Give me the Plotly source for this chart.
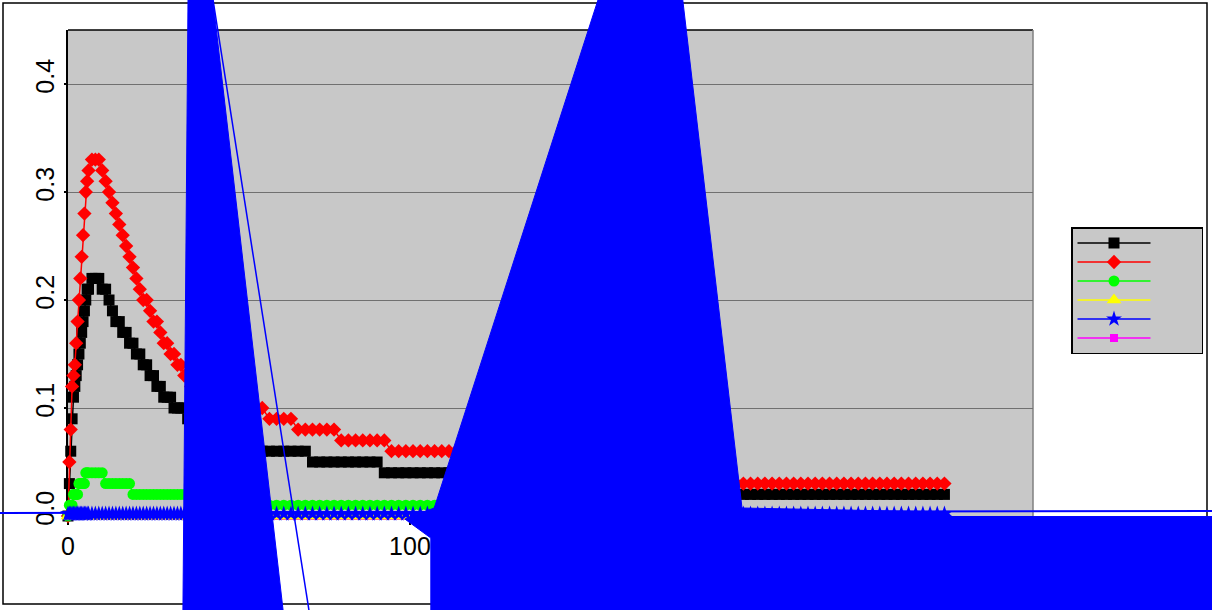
import plotly.graph_objects as go

# ---------------- data ----------------
time = [
    0.0, 0.4, 0.8, 1.2, 1.6, 2.0, 2.4, 2.8, 3.2, 3.6, 4.0, 4.4, 4.8, 5.2, 5.6, 6.0,
    7, 8, 9, 10, 11, 12, 13, 14, 15, 16, 17, 18, 19, 20, 21, 22,
    23, 24, 25, 26, 27, 28, 29, 30, 31, 32, 33, 34, 35, 36, 37, 38,
    40.0, 42.1, 44.2, 46.3, 48.4, 50.5, 52.6, 54.7, 56.8, 58.9, 61.0, 63.1, 65.2,
    67.3, 69.4, 71.5, 73.6, 75.7, 77.8, 79.9, 82.0, 84.1, 86.2, 88.3, 90.4, 92.5,
    94.6, 96.7, 98.8, 100.9, 103.0, 105.1, 107.2, 109.3, 111.4, 113.5, 115.6, 117.7, 119.8,
    121.9, 124.0, 126.1, 128.2, 130.3, 132.4, 134.5, 136.6, 138.7, 140.8, 142.9, 145.0, 147.1,
    149.2, 151.3, 153.4, 155.5, 157.6, 159.7, 161.8, 163.9, 166.0, 168.1, 170.2, 172.3, 174.4,
    176.5, 178.6, 180.7, 182.8, 184.9, 187.0, 189.1, 191.2, 193.3, 195.4, 197.5, 199.6, 201.7,
    203.8, 205.9, 208.0, 210.1, 212.2, 214.3, 216.4, 218.5, 220.6, 222.7, 224.8, 226.9, 229.0,
    231.1, 233.2, 235.3, 237.4, 239.5, 241.6, 243.7, 245.8, 247.9, 250.0, 252.1, 254.2, 256.3,
]

black_vals = [
    0.00, 0.03, 0.06, 0.09, 0.11, 0.12, 0.13, 0.14, 0.15, 0.16, 0.17, 0.18, 0.19, 0.20, 0.21, 0.21,
    0.22, 0.22, 0.22, 0.21, 0.21, 0.20, 0.19, 0.18, 0.18, 0.17, 0.17, 0.16, 0.16, 0.15, 0.15, 0.14,
    0.14, 0.13, 0.13, 0.12, 0.12, 0.11, 0.11, 0.11, 0.10, 0.10, 0.10, 0.10, 0.09, 0.09, 0.09, 0.09,
    0.08, 0.08, 0.08, 0.07, 0.07, 0.07, 0.07, 0.06, 0.06, 0.06, 0.06, 0.06, 0.06,
    0.06, 0.06, 0.05, 0.05, 0.05, 0.05, 0.05, 0.05, 0.05, 0.05, 0.05, 0.05, 0.04,
    0.04, 0.04, 0.04, 0.04, 0.04, 0.04, 0.04, 0.04, 0.04, 0.04, 0.04, 0.04, 0.04,
    0.04, 0.04, 0.04, 0.04, 0.04, 0.04, 0.03, 0.03, 0.03, 0.03, 0.03, 0.03, 0.03,
    0.03, 0.03, 0.03, 0.03, 0.03, 0.03, 0.03, 0.03, 0.03, 0.03, 0.03, 0.03, 0.03,
    0.02, 0.02, 0.02, 0.02, 0.02, 0.02, 0.02, 0.02, 0.02, 0.02, 0.02, 0.02, 0.02,
    0.02, 0.02, 0.02, 0.02, 0.02, 0.02, 0.02, 0.02, 0.02, 0.02, 0.02, 0.02, 0.02,
    0.02, 0.02, 0.02, 0.02, 0.02, 0.02, 0.02, 0.02, 0.02, 0.02, 0.02, 0.02, 0.02,
]

red_vals = [
    0.00, 0.05, 0.08, 0.12, 0.13, 0.14, 0.16, 0.18, 0.20, 0.22, 0.24, 0.26, 0.28, 0.30, 0.31, 0.32,
    0.33, 0.33, 0.33, 0.32, 0.31, 0.30, 0.29, 0.28, 0.27, 0.26, 0.25, 0.24, 0.23, 0.22, 0.21, 0.20,
    0.20, 0.19, 0.18, 0.18, 0.17, 0.16, 0.16, 0.15, 0.15, 0.14, 0.14, 0.13, 0.13, 0.12, 0.12, 0.12,
    0.12, 0.11, 0.11, 0.11, 0.10, 0.10, 0.10, 0.10, 0.10, 0.09, 0.09, 0.09, 0.09,
    0.08, 0.08, 0.08, 0.08, 0.08, 0.08, 0.07, 0.07, 0.07, 0.07, 0.07, 0.07, 0.07,
    0.06, 0.06, 0.06, 0.06, 0.06, 0.06, 0.06, 0.06, 0.06, 0.06, 0.06, 0.05, 0.05,
    0.05, 0.05, 0.05, 0.05, 0.05, 0.05, 0.05, 0.05, 0.05, 0.05, 0.04, 0.04, 0.04,
    0.04, 0.04, 0.04, 0.04, 0.04, 0.04, 0.04, 0.04, 0.04, 0.04, 0.04, 0.04, 0.04,
    0.03, 0.03, 0.03, 0.03, 0.03, 0.03, 0.03, 0.03, 0.03, 0.03, 0.03, 0.03, 0.03,
    0.03, 0.03, 0.03, 0.03, 0.03, 0.03, 0.03, 0.03, 0.03, 0.03, 0.03, 0.03, 0.03,
    0.03, 0.03, 0.03, 0.03, 0.03, 0.03, 0.03, 0.03, 0.03, 0.03, 0.03, 0.03, 0.03,
]

green_vals = [
    0.00, 0.01, 0.01, 0.01, 0.02, 0.02, 0.02, 0.02, 0.03, 0.03, 0.03, 0.03, 0.03, 0.04, 0.04, 0.04,
    0.04, 0.04, 0.04, 0.04, 0.03, 0.03, 0.03, 0.03, 0.03, 0.03, 0.03, 0.03, 0.02, 0.02, 0.02, 0.02,
    0.02, 0.02, 0.02, 0.02, 0.02, 0.02, 0.02, 0.02, 0.02, 0.02, 0.02, 0.02, 0.02, 0.02, 0.02, 0.02,
    0.02, 0.02, 0.02, 0.02, 0.02, 0.01, 0.01, 0.01, 0.01, 0.01, 0.01, 0.01, 0.01,
    0.01, 0.01, 0.01, 0.01, 0.01, 0.01, 0.01, 0.01, 0.01, 0.01, 0.01, 0.01, 0.01,
    0.01, 0.01, 0.01, 0.01, 0.01, 0.01, 0.01, 0.01, 0.01, 0.01, 0.01, 0.01, 0.01,
    0.01, 0.01, 0.01, 0.01, 0.01, 0.01, 0.01, 0.01, 0.01, 0.01, 0.01, 0.01, 0.01,
    0.01, 0.00, 0.00, 0.00, 0.00, 0.00, 0.00, 0.00, 0.00, 0.00, 0.00, 0.00, 0.00,
    0.00, 0.00, 0.00, 0.00, 0.00, 0.00, 0.00, 0.00, 0.00, 0.00, 0.00, 0.00, 0.00,
    0.00, 0.00, 0.00, 0.00, 0.00, 0.00, 0.00, 0.00, 0.00, 0.00, 0.00, 0.00, 0.00,
    0.00, 0.00, 0.00, 0.00, 0.00, 0.00, 0.00, 0.00, 0.00, 0.00, 0.00, 0.00, 0.00,
]

yellow_vals = [
    0.0, 0.0, 0.0, 0.0, 0.0, 0.0, 0.0, 0.0, 0.0, 0.0, 0.0, 0.0, 0.0, 0.0, 0.0, 0.0,
    0.0, 0.0, 0.0, 0.0, 0.0, 0.0, 0.0, 0.0, 0.0, 0.0, 0.0, 0.0, 0.0, 0.0, 0.0, 0.0,
    0.0, 0.0, 0.0, 0.0, 0.0, 0.0, 0.0, 0.0, 0.0, 0.0, 0.0, 0.0, 0.0, 0.0, 0.0, 0.0,
    0.0, 0.0, 0.0, 0.0, 0.0, 0.0, 0.0, 0.0, 0.0, 0.0, 0.0, 0.0, 0.0,
    0.0, 0.0, 0.0, 0.0, 0.0, 0.0, 0.0, 0.0, 0.0, 0.0, 0.0, 0.0, 0.0,
    0.0, 0.0, 0.0, 0.0, 0.0, 0.0, 0.0, 0.0, 0.0, 0.0, 0.0, 0.0, 0.0,
    0.0, 0.0, 0.0, 0.0, 0.0, 0.0, 0.0, 0.0, 0.0, 0.0, 0.0, 0.0, 0.0,
    0.0, 0.0, 0.0, 0.0, 0.0, 0.0, 0.0, 0.0, 0.0, 0.0, 0.0, 0.0, 0.0,
    0.0, 0.0, 0.0, 0.0, 0.0, 0.0, 0.0, 0.0, 0.0, 0.0, 0.0, 0.0, 0.0,
    0.0, 0.0, 0.0, 0.0, 0.0, 0.0, 0.0, 0.0, 0.0, 0.0, 0.0, 0.0, 0.0,
    0.0, 0.0, 0.0, 0.0, 0.0, 0.0, 0.0, 0.0, 0.0, 0.0, 0.0, 0.0, 0.0,
]

blue_vals = [
    0.002, 0.002, 0.002, 0.002, 0.002, 0.002, 0.002, 0.002, 0.002, 0.002, 0.002, 0.002, 0.002, 0.002, 0.002, 0.002,
    0.002, 0.002, 0.002, 0.002, 0.002, 0.002, 0.002, 0.002, 0.002, 0.002, 0.002, 0.002, 0.002, 0.002, 0.002, 0.002,
    0.002, 0.002, 0.002, 0.002, 0.002, 0.002, 0.002, 0.002, 0.002, 0.002, 0.002, 0.002, 0.002, 0.002, 0.002, 0.002,
    0.002, 0.002, 0.002, 0.002, 0.002, 0.002, 0.002, 0.002, 0.002, 0.002, 0.002, 0.002, 0.002,
    0.002, 0.002, 0.002, 0.002, 0.002, 0.002, 0.002, 0.002, 0.002, 0.002, 0.002, 0.002, 0.002,
    0.002, 0.002, 0.002, 0.002, 0.002, 0.002, 0.002, 0.002, 0.002, 0.002, 0.002, 0.002, 0.002,
    0.002, 0.002, 0.002, 0.002, 0.002, 0.002, 0.002, 0.002, 0.002, 0.002, 0.002, 0.002, 0.002,
    0.002, 0.002, 0.002, 0.002, 0.002, 0.002, 0.002, 0.002, 0.002, 0.002, 0.002, 0.002, 0.002,
    0.002, 0.002, 0.002, 0.002, 0.002, 0.002, 0.002, 0.002, 0.002, 0.002, 0.002, 0.002, 0.002,
    0.002, 0.002, 0.002, 0.002, 0.002, 0.002, 0.002, 0.002, 0.002, 0.002, 0.002, 0.002, 0.002,
    0.002, 0.002, 0.002, 0.002, 0.002, 0.002, 0.002, 0.002, 0.002, 0.002, 0.002, 0.002, 0.002,
]

magenta_vals = [
    0.0, 0.0, 0.0, 0.0, 0.0, 0.0, 0.0, 0.0, 0.0, 0.0, 0.0, 0.0, 0.0, 0.0, 0.0, 0.0,
    0.0, 0.0, 0.0, 0.0, 0.0, 0.0, 0.0, 0.0, 0.0, 0.0, 0.0, 0.0, 0.0, 0.0, 0.0, 0.0,
    0.0, 0.0, 0.0, 0.0, 0.0, 0.0, 0.0, 0.0, 0.0, 0.0, 0.0, 0.0, 0.0, 0.0, 0.0, 0.0,
    0.0, 0.0, 0.0, 0.0, 0.0, 0.0, 0.0, 0.0, 0.0, 0.0, 0.0, 0.0, 0.0,
    0.0, 0.0, 0.0, 0.0, 0.0, 0.0, 0.0, 0.0, 0.0, 0.0, 0.0, 0.0, 0.0,
    0.0, 0.0, 0.0, 0.0, 0.0, 0.0, 0.0, 0.0, 0.0, 0.0, 0.0, 0.0, 0.0,
    0.0, 0.0, 0.0, 0.0, 0.0, 0.0, 0.0, 0.0, 0.0, 0.0, 0.0, 0.0, 0.0,
    0.0, 0.0, 0.0, 0.0, 0.0, 0.0, 0.0, 0.0, 0.0, 0.0, 0.0, 0.0, 0.0,
    0.0, 0.0, 0.0, 0.0, 0.0, 0.0, 0.0, 0.0, 0.0, 0.0, 0.0, 0.0, 0.0,
    0.0, 0.0, 0.0, 0.0, 0.0, 0.0, 0.0, 0.0, 0.0, 0.0, 0.0, 0.0, 0.0,
    0.0, 0.0, 0.0, 0.0, 0.0, 0.0, 0.0, 0.0, 0.0, 0.0, 0.0, 0.0, 0.0,
]

# the blue series' runaway segments (data units, drawn unclipped over the page)
blue_spike_a_x = [35.1, 42.3, 63.0, 33.6, 35.1]
blue_spike_a_y = [0.48, 0.48, -0.09, -0.09, 0.48]
blue_streak_x = [42.3, 70.6]
blue_streak_y = [0.48, -0.09]
blue_spike_b_x = [155.2, 179.7, 197.1, 257.0, 258.5, 336.0, 336.0, 106.1, 106.1, 98.5, 107.1, 155.2]
blue_spike_b_y = [0.48, 0.48, 0.0074, 0.0037, -0.0005, -0.0005, -0.09, -0.09, -0.0204, -0.0028, 0.0074, 0.48]
blue_base_x = [-20.0, 336.0]
blue_base_y = [0.0028, 0.0046]

x_ticks = [0, 100, 200]
y_ticks = [0.0, 0.1, 0.2, 0.3, 0.4]

for name, arr in [("black", black_vals), ("red", red_vals), ("green", green_vals),
                  ("yellow", yellow_vals), ("blue", blue_vals), ("magenta", magenta_vals)]:
    if len(arr) != len(time):
        raise ValueError(f"{name}: {len(arr)} vs {len(time)}")

# ---------------- layout geometry ----------------
W, H = 1212, 610
PLOT_L, PLOT_R, PLOT_T, PLOT_B = 68, 1033, 30, 516
X_RANGE = [0, 282.2]
Y_RANGE = [0, 0.45]
sx = (PLOT_R - PLOT_L) / (X_RANGE[1] - X_RANGE[0])
sy = (PLOT_B - PLOT_T) / (Y_RANGE[1] - Y_RANGE[0])
x2_range = [X_RANGE[0] - PLOT_L / sx, X_RANGE[0] + (W - PLOT_L) / sx]
y2_range = [Y_RANGE[0] - (H - PLOT_B) / sy, Y_RANGE[0] + PLOT_B / sy]
px = lambda v: v / W
py = lambda v: (H - v) / H

FONT = "Liberation Sans, Arial, sans-serif"
BLANK = "\u00a0" * 12

fig = go.Figure()

series = [
    # legend rank, values, color, symbol, size
    (6, magenta_vals, "#ff00ff", "square", 8),
    (1, black_vals, "#000000", "square", 11),
    (2, red_vals, "#ff0000", "diamond", 11),
    (3, green_vals, "#00ff00", "circle", 11),
    (4, yellow_vals, "#ffff00", "triangle-up", 13),
    (5, blue_vals, "#0000ff", "star", 12),
]
for rank, vals, color, symbol, size in series:
    fig.add_trace(go.Scatter(
        x=time, y=vals, mode="lines+markers", name=BLANK, legendrank=rank,
        line=dict(color=color, width=1.5),
        marker=dict(symbol=symbol, size=size, color=color, line=dict(width=0)),
        cliponaxis=False, hoverinfo="skip",
    ))

blue_kw = dict(xaxis="x2", yaxis="y2", showlegend=False, hoverinfo="skip")
fig.add_trace(go.Scatter(x=blue_spike_a_x, y=blue_spike_a_y, mode="lines", fill="toself",
                         fillcolor="#0000ff", line=dict(color="#0000ff", width=1), **blue_kw))
fig.add_trace(go.Scatter(x=blue_spike_b_x, y=blue_spike_b_y, mode="lines", fill="toself",
                         fillcolor="#0000ff", line=dict(color="#0000ff", width=1), **blue_kw))
fig.add_trace(go.Scatter(x=blue_streak_x, y=blue_streak_y, mode="lines",
                         line=dict(color="#0000ff", width=1.5), **blue_kw))
fig.add_trace(go.Scatter(x=blue_base_x, y=blue_base_y, mode="lines",
                         line=dict(color="#0000ff", width=2), **blue_kw))

shapes = [
    # outer chart frame
    dict(type="rect", xref="paper", yref="paper", x0=px(3), x1=px(1207), y0=py(604), y1=py(3),
         line=dict(color="#000000", width=1.5), fillcolor="rgba(0,0,0,0)", layer="below"),
    # plot area background
    dict(type="rect", xref="paper", yref="paper", x0=px(PLOT_L), x1=px(PLOT_R), y0=py(PLOT_B), y1=py(PLOT_T),
         line=dict(width=0), fillcolor="#c8c8c8", layer="below"),
    # plot area top / right borders
    dict(type="line", xref="paper", yref="paper", x0=px(PLOT_L), x1=px(PLOT_R), y0=py(PLOT_T), y1=py(PLOT_T),
         line=dict(color="#000000", width=1.5), layer="below"),
    dict(type="line", xref="paper", yref="paper", x0=px(PLOT_R), x1=px(PLOT_R), y0=py(PLOT_B), y1=py(PLOT_T),
         line=dict(color="#808080", width=1.5), layer="below"),
]

tickfont = dict(family=FONT, size=25, color="#000000")

fig.update_layout(
    width=W, height=H, autosize=False,
    margin=dict(l=0, r=0, t=0, b=0, pad=0, autoexpand=False),
    paper_bgcolor="#ffffff", plot_bgcolor="rgba(0,0,0,0)",
    showlegend=True, hovermode=False,
    shapes=shapes,
    # main axes: labels (short ticks so the labels sit as close as in the original)
    xaxis=dict(domain=[PLOT_L / W, PLOT_R / W], range=X_RANGE, tickvals=x_ticks,
               ticktext=[str(v) for v in x_ticks], automargin=False,
               showgrid=False, zeroline=False, showline=True, linecolor="#000000", linewidth=1.5,
               ticks="outside", ticklen=7, tickwidth=1.5, tickcolor="#000000",
               tickfont=tickfont, layer="below traces", anchor="y"),
    yaxis=dict(domain=[py(PLOT_B), py(PLOT_T)], range=Y_RANGE, tickvals=y_ticks,
               ticktext=[f"{v:.1f}" for v in y_ticks], tickangle=-90, automargin=False,
               ticklabelshift=-4,
               showgrid=True, gridcolor="#707070", gridwidth=1.3, zeroline=False,
               showline=True, linecolor="#000000", linewidth=1.5,
               ticks="outside", ticklen=2, tickwidth=1.5, tickcolor="#000000",
               tickfont=tickfont, layer="below traces", anchor="x"),
    # companion axes carrying the full-length tick marks
    xaxis3=dict(overlaying="x", anchor="y", side="bottom", range=X_RANGE, tickvals=x_ticks,
                showticklabels=False, showgrid=False, zeroline=False, showline=False,
                ticks="outside", ticklen=10, tickwidth=1.5, tickcolor="#000000",
                automargin=False, layer="below traces"),
    yaxis3=dict(overlaying="y", anchor="x", side="left", range=Y_RANGE, tickvals=y_ticks,
                showticklabels=False, showgrid=False, zeroline=False, showline=False,
                ticks="outside", ticklen=10, tickwidth=1.5, tickcolor="#000000",
                automargin=False, layer="below traces"),
    xaxis2=dict(domain=[0, 1], range=x2_range, visible=False, anchor="y2", fixedrange=True,
                automargin=False),
    yaxis2=dict(domain=[0, 1], range=y2_range, visible=False, anchor="x2", fixedrange=True,
                automargin=False),
    legend=dict(x=px(1071), y=py(227), xanchor="left", yanchor="top",
                bgcolor="#c8c8c8", bordercolor="#000000", borderwidth=1.5,
                itemwidth=73, tracegroupgap=0, traceorder="normal",
                font=dict(family=FONT, size=12, color="#000000")),
)

fig.write_html(
    "out.html",
    config={"displayModeBar": False, "responsive": False},
    post_script="document.body.style.margin='0';document.body.style.overflow='hidden';",
)
